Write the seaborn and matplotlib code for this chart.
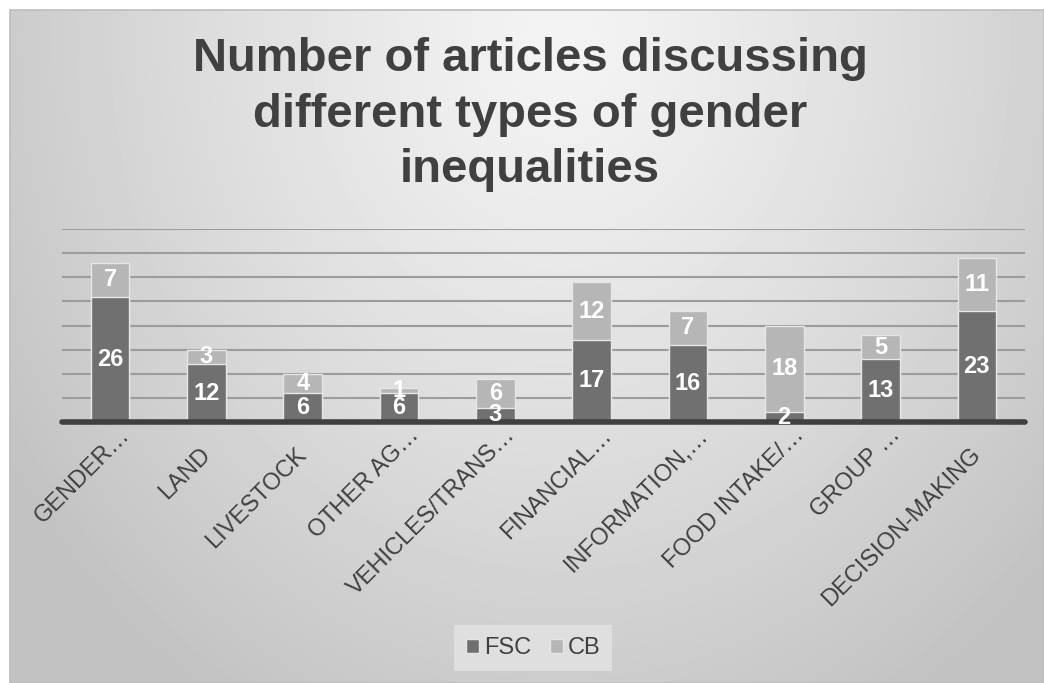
import numpy as np
import pandas as pd
import matplotlib
matplotlib.use("Agg")
import matplotlib.pyplot as plt
from matplotlib.patches import Patch, Rectangle
from matplotlib.transforms import ScaledTranslation
import seaborn as sns

# ── Data ──────────────────────────────────────────────────────────────
CATEGORIES = ["GENDER…", "LAND", "LIVESTOCK", "OTHER AG…", "VEHICLES/TRANS…",
              "FINANCIAL…", "INFORMATION,…", "FOOD INTAKE/…", "GROUP …",
              "DECISION-MAKING"]
FSC = [26, 12, 6, 6, 3, 17, 16, 2, 13, 23]
CB = [7, 3, 4, 1, 6, 12, 7, 18, 5, 11]
SERIES = ["FSC", "CB"]
TITLE = "Number of articles discussing\ndifferent types of gender\ninequalities"

FSC_COLOR = "#707070"
CB_COLOR = "#b6b6b6"
TEXT_COLOR = "#404040"

df = pd.DataFrame({"category": CATEGORIES, "FSC": FSC, "CB": CB})
df["total"] = df["FSC"] + df["CB"]

sns.set_theme(style="white")
plt.rcParams["font.family"] = ["Liberation Sans", "DejaVu Sans"]

W, H = 1044, 683
fig = plt.figure(figsize=(W / 100, H / 100), dpi=100)
fig.patch.set_facecolor("white")

# ── Gradient background (chart area) ──────────────────────────────────
bg = fig.add_axes([10 / W, 0, (W - 10) / W, (H - 10) / H], zorder=-10)
yy, xx = np.mgrid[0:H - 10, 0:W - 10]
d = np.sqrt((xx - 550) ** 2 + ((yy - 30) * 0.85) ** 2)
shade = 0.955 - 0.16 * (d / 560) ** 1.2
shade = np.clip(shade, 0.76, 0.96)
bg.imshow(shade, cmap="gray", vmin=0, vmax=1, aspect="auto",
          interpolation="bilinear")
bg.set_axis_off()
fig.patches.append(Rectangle((10 / W, 0), (W - 10) / W, (H - 10) / H,
                             transform=fig.transFigure, fill=False,
                             edgecolor="#bdbdbd", linewidth=1.2, zorder=-5))

# ── Main plot ─────────────────────────────────────────────────────────
ax = fig.add_axes([62 / W, 261 / H, 963 / W, 193 / H])
ax.set_facecolor("none")

sns.barplot(data=df, x="category", y="total", color=CB_COLOR, saturation=1,
            width=0.4, edgecolor="#e6e6e6", linewidth=1, ax=ax, zorder=3)
sns.barplot(data=df, x="category", y="FSC", color=FSC_COLOR, saturation=1,
            width=0.4, edgecolor="#e6e6e6", linewidth=1, ax=ax, zorder=4)

ax.bar_label(ax.containers[1], labels=[str(v) for v in FSC], label_type="center",
             color="white", fontsize=17, fontweight="bold", zorder=6)
for i, (f, c) in enumerate(zip(FSC, CB)):
    ax.text(i, f + c / 2, str(c), ha="center", va="center", color="white",
            fontsize=17, fontweight="bold", zorder=6)

ax.set_ylim(0, 40)
ax.set_xlim(-0.5, len(CATEGORIES) - 0.5)
ax.set_yticks(np.arange(0, 41, 5))
ax.set_yticklabels([])
ax.yaxis.grid(True, color="#9c9c9c", linewidth=1.5, zorder=0)
ax.set_axisbelow(True)
ax.axhline(0, color=TEXT_COLOR, linewidth=4, zorder=5, clip_on=False)
for s in ax.spines.values():
    s.set_visible(False)
ax.set_xlabel("")
ax.set_ylabel("")
ax.tick_params(axis="x", length=0, pad=0, labelsize=17, labelcolor=TEXT_COLOR)
ax.tick_params(axis="y", length=0)

# Excel pushes the truncated ("…") labels further out along the slant
for lab in ax.get_xticklabels():
    truncated = lab.get_text().endswith("…")
    dx, dy = (21, -14) if truncated else (5, -34)
    lab.set_rotation(45)
    lab.set_ha("right")
    lab.set_va("baseline")
    lab.set_rotation_mode("anchor")
    lab.set_transform(lab.get_transform() +
                      ScaledTranslation(dx / 100, dy / 100, fig.dpi_scale_trans))

# ── Title ─────────────────────────────────────────────────────────────
fig.text(530 / W, 1 - 37 / H, TITLE, ha="center", va="top", fontsize=34,
         fontweight="bold", color=TEXT_COLOR, linespacing=1.34)

# ── Legend ────────────────────────────────────────────────────────────
handles = [Patch(facecolor=FSC_COLOR, edgecolor="#e6e6e6"),
           Patch(facecolor=CB_COLOR, edgecolor="#e6e6e6")]
leg = fig.legend(handles, SERIES, loc="center", ncol=2,
                 bbox_to_anchor=(533 / W, 1 - 648 / H),
                 bbox_transform=fig.transFigure, fontsize=17,
                 handlelength=0.55, handleheight=0.55, handletextpad=0.2,
                 columnspacing=0.8, borderpad=0.5, frameon=True,
                 fancybox=False)
leg.get_frame().set_facecolor("#e4e4e4")
leg.get_frame().set_edgecolor("none")
leg.get_frame().set_alpha(0.8)
for t in leg.get_texts():
    t.set_color(TEXT_COLOR)

fig.savefig("out.png", dpi=100)
